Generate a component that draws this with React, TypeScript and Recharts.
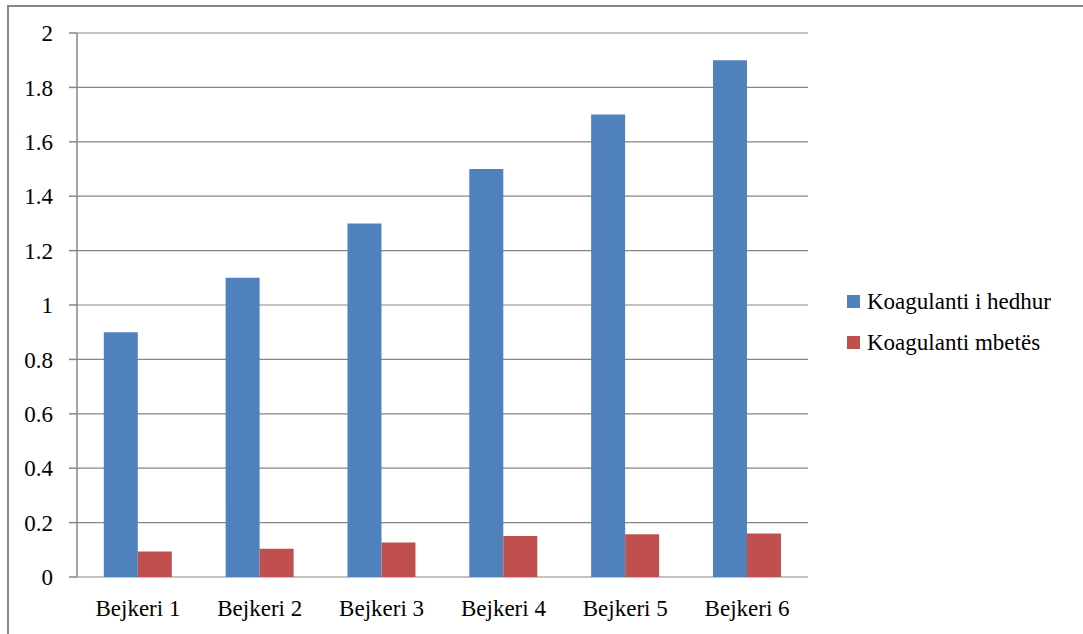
import { BarChart, Bar, XAxis, YAxis, CartesianGrid, Legend } from 'recharts';

const beakers = ['Bejkeri 1', 'Bejkeri 2', 'Bejkeri 3', 'Bejkeri 4', 'Bejkeri 5', 'Bejkeri 6'];
const added = [0.9, 1.1, 1.3, 1.5, 1.7, 1.9];
const remaining = [0.094, 0.104, 0.127, 0.151, 0.157, 0.16];
const yTicks = [0, 0.2, 0.4, 0.6, 0.8, 1, 1.2, 1.4, 1.6, 1.8, 2];
const boundaryTicks = [0, 1, 2, 3, 4, 5, 6];

const seriesNames = ['Koagulanti i hedhur', 'Koagulanti mbetës'];
const colors = ['#4F81BD', '#C0504D'];

const data = beakers.map((name, i) => ({
  name,
  slot: i + 0.5,
  added: added[i],
  remaining: remaining[i],
}));

const font = 'Liberation Serif, DejaVu Serif, serif';
const gray = '#868686';

function LegendBox() {
  return (
    <div style={{ fontFamily: font, fontSize: 23, color: '#000', width: 236 }}>
      {seriesNames.map((s, i) => (
        <div key={s} style={{ display: 'flex', alignItems: 'center', height: 41 }}>
          <span style={{ width: 13, height: 13, background: colors[i], marginRight: 7, display: 'inline-block' }} />
          <span>{s}</span>
        </div>
      ))}
    </div>
  );
}

const NoLabel = () => <g />;

export default function App() {
  return (
    <div style={{ position: 'absolute', left: 0, top: 0, width: 1083, height: 634, background: '#fff' }}>
      {/* chart area frame */}
      <div style={{ position: 'absolute', left: 7, top: 5, right: 0, bottom: 0, borderTop: `2px solid ${gray}`, borderLeft: `2px solid ${gray}` }} />
      <BarChart
        width={1083}
        height={634}
        data={data}
        margin={{ top: 33, right: 39, bottom: 0, left: 0 }}
        barCategoryGap="22%"
        barGap={0}
        style={{ position: 'absolute', left: 0, top: 0 }}
      >
        <CartesianGrid vertical={false} stroke={gray} strokeWidth={1.2} />
        <XAxis
          xAxisId="edges"
          type="number"
          dataKey="slot"
          domain={[0, 6]}
          ticks={boundaryTicks}
          height={0}
          tick={NoLabel}
          tickSize={7}
          stroke={gray}
          strokeWidth={1.5}
        />
        <XAxis
          dataKey="name"
          height={57}
          axisLine={false}
          tickLine={false}
          tickMargin={17}
          tick={{ fill: '#000', fontSize: 23, fontFamily: font }}
        />
        <YAxis
          width={77}
          domain={[0, 2]}
          ticks={yTicks}
          tickSize={8}
          tickMargin={16}
          stroke={gray}
          strokeWidth={1.5}
          tick={{ fill: '#000', fontSize: 23, fontFamily: font }}
        />
        <Legend
          layout="vertical"
          align="right"
          verticalAlign="middle"
          content={<LegendBox />}
          wrapperStyle={{ left: 847, top: 281, width: 236 }}
        />
        <Bar dataKey="added" name={seriesNames[0]} fill={colors[0]} isAnimationActive={false} />
        <Bar dataKey="remaining" name={seriesNames[1]} fill={colors[1]} isAnimationActive={false} />
      </BarChart>
    </div>
  );
}
